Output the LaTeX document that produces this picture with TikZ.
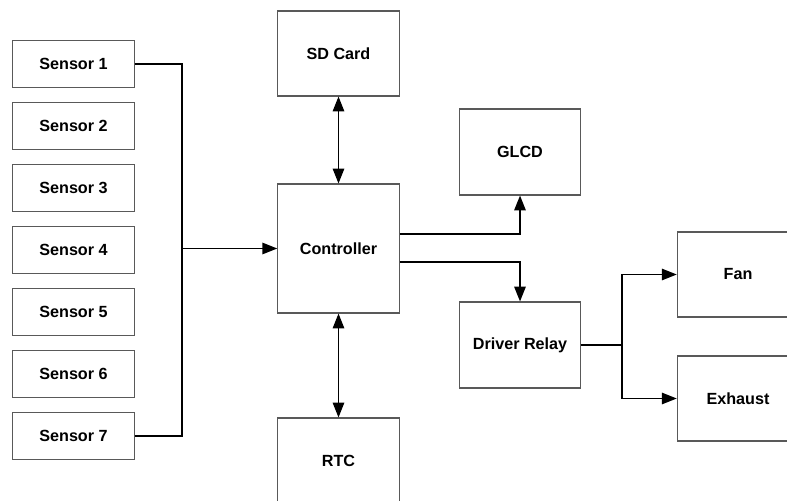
\documentclass[tikz,border=0pt]{standalone}
\usepackage{fontspec}
\setmainfont{Liberation Sans}
\usetikzlibrary{arrows.meta}

\begin{document}
\begin{tikzpicture}[x=0.02cm, y=-0.02cm, node distance=1.24cm,
  block/.style={draw=black!65, line width=0.6pt, rectangle, minimum width=2.43cm,
                font=\fontsize{9.2}{11}\selectfont\bfseries},
  sensor/.style={block, minimum height=0.94cm},
  wire/.style={line width=1pt},
  >={Triangle[length=8.5pt, width=6.5pt]}]
  \useasboundingbox (0,0) rectangle (787,500);
  \clip (0,0) rectangle (787,500);

  % sensors
  \node (s1) [sensor] at (73.5,64) {Sensor 1};
  \node (s2) [sensor, below of=s1] {Sensor 2};
  \node (s3) [sensor, below of=s2] {Sensor 3};
  \node (s4) [sensor, below of=s3] {Sensor 4};
  \node (s5) [sensor, below of=s4] {Sensor 5};
  \node (s6) [sensor, below of=s5] {Sensor 6};
  \node (s7) [sensor, below of=s6] {Sensor 7};

  % main blocks
  \node (sd)      [block, minimum height=1.7cm]  at (338.5,53.5) {SD Card};
  \node (ctrl)    [block, minimum height=2.58cm] at (338.5,248.5) {Controller};
  \node (rtc)     [block, minimum height=1.7cm]  at (338.5,460.5) {RTC};
  \node (glcd)    [block, minimum height=1.72cm] at (520,152) {GLCD};
  \node (relay)   [block, minimum height=1.72cm] at (520,345) {Driver Relay};
  \node (fan)     [block, minimum height=1.7cm]  at (738,274.5) {Fan};
  \node (exhaust) [block, minimum height=1.7cm]  at (738,398.5) {Exhaust};

  \coordinate (bus) at (182,248.5);
  \coordinate (split) at (622,345);

  \draw[wire] (s1.east) -| (bus) |- (s7.east);
  \draw[wire, ->] (bus) -- (ctrl.west);
  \draw[wire, <->] (sd) -- (ctrl);
  \draw[wire, <->] (ctrl) -- (rtc);
  \draw[wire, ->] ([yshift=0.29cm]ctrl.east) -| (glcd);
  \draw[wire, ->] ([yshift=-0.27cm]ctrl.east) -| (relay);
  \draw[wire] (relay.east) -- (split);
  \draw[wire, ->] (split) |- (fan);
  \draw[wire, ->] (split) |- (exhaust);
\end{tikzpicture}
\end{document}
